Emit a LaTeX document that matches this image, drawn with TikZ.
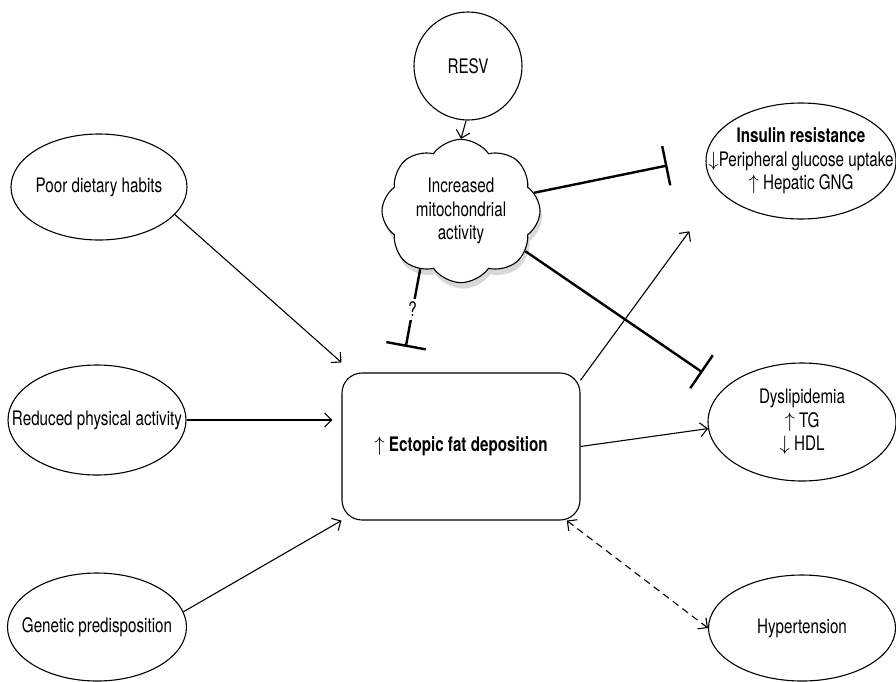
\documentclass[tikz,border=0pt]{standalone}
\usepackage{fontspec}
\setmainfont{TeX Gyre Heros}[FakeStretch=0.76]
\usetikzlibrary{arrows.meta,shapes.geometric,shapes.symbols,shadows}

\begin{document}
\begin{tikzpicture}[x=1pt,y=-1pt,
  txt/.style={font=\fontsize{20}{23.5}\selectfont, align=center, inner sep=0pt},
  oval/.style={txt, draw, ellipse, line width=1.1pt, inner xsep=-30pt},
  act/.style={line width=1.1pt, -{Straight Barb[length=7pt,width=14pt]}},
  inh/.style={line width=2.4pt, -{Bar[width=40pt]}}]
\useasboundingbox (0,0) rectangle (896,681);
\clip (0,0) rectangle (896,681);

% causes
\node[oval, minimum width=176pt, minimum height=106pt] (PD) at (99,187) {Poor dietary habits};
\node[oval, minimum width=178pt, minimum height=110pt] (RA) at (97,420) {Reduced physical activity};
\node[oval, minimum width=179pt, minimum height=108pt] (GP) at (97,627) {Genetic predisposition};

% centre
\node[txt, draw, rounded corners=20pt, line width=1.1pt, minimum width=238pt, minimum height=147pt] (EF) at (461,446.5) {$\uparrow$ \textbf{Ectopic fat deposition}};

% resveratrol
\node[txt, draw, circle, line width=1.1pt, minimum size=108pt] (RV) at (468,66) {RESV};
\node[txt, draw, cloud, cloud puffs=8, cloud puff arc=110, fill=white, line width=1.1pt,
  drop shadow={shadow xshift=2pt, shadow yshift=-6pt, fill=gray!60},
  minimum width=158pt, minimum height=118pt] (MA) at (461,211) {Increased\\mitochondrial\\activity};

% outcomes
\node[oval, minimum width=190pt, minimum height=116pt] (IR) at (801,161) {\textbf{Insulin resistance}\\$\downarrow$Peripheral glucose uptake\\$\uparrow$ Hepatic GNG};
\node[oval, minimum width=188pt, minimum height=118pt] (DL) at (802,422) {Dyslipidemia\\$\uparrow$ TG\\$\downarrow$ HDL};
\node[oval, minimum width=187pt, minimum height=106pt] (HT) at (802,628) {Hypertension};

\draw[act] (RV.-92) -- (MA.north);
\draw[act] (PD.-20) -- ([yshift=10pt]EF.north west);
\draw[act, shorten >=9pt] (RA.east) -- (RA.east -| EF.west);
\draw[act] (GP.10) -- (EF.south west);

\draw[act, shorten >=50pt] (EF.29) -- (IR.200);
\draw[act] (EF.east) -- (DL.184);
\draw[line width=1.1pt, dash pattern=on 7pt off 5pt, {Straight Barb[length=7pt,width=14pt]}-{Straight Barb[length=7pt,width=14pt]}] (EF.-35) -- (HT.west);

\draw[inh, shorten >=39pt] (MA.14) -- (IR.178);
\draw[inh, shorten >=27pt] (MA.-32) -- (DL.156);
\draw[inh, shorten >=26pt] (MA.235) -- node[txt, pos=0.39, fill=white, inner sep=3pt] (QM) {?} (EF.129);
\end{tikzpicture}
\end{document}
